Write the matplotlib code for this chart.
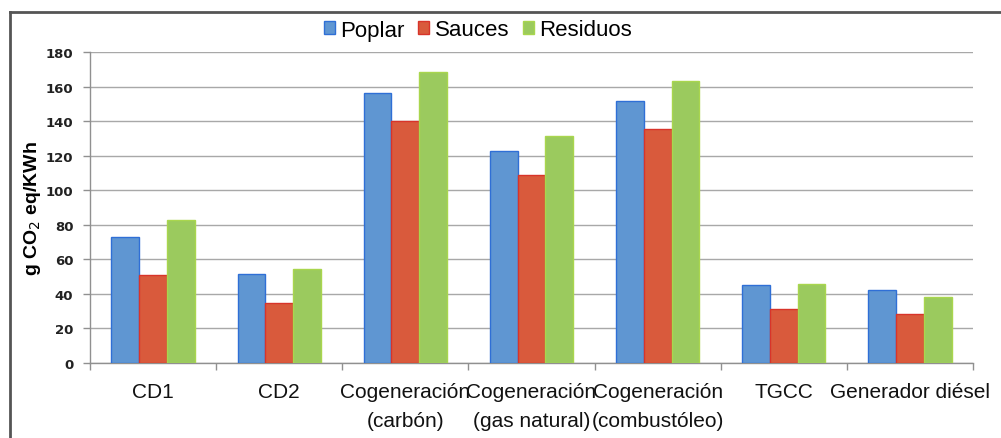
import matplotlib
matplotlib.use("Agg")
import matplotlib.pyplot as plt
import numpy as np
from matplotlib.lines import Line2D

categories = ["CD1", "CD2", "Cogeneración\n(carbón)", "Cogeneración\n(gas natural)",
              "Cogeneración\n(combustóleo)", "TGCC", "Generador diésel"]
poplar = [73, 51.5, 156.5, 122.5, 151.5, 45, 42]
sauces = [51, 35, 140, 109, 135.5, 31, 28.5]
residuos = [83, 54.5, 168.5, 131.5, 163.5, 46, 38]
series_names = ["Poplar", "Sauces", "Residuos"]
yticks = list(range(0, 181, 20))

fill_colors = ["#5F96D2", "#D95A3C", "#9BCA5E"]
edge_colors = ["#2F6FD6", "#D8342A", "#A9D64E"]

plt.rcParams['font.family'] = ['Liberation Sans', 'DejaVu Sans']
fig = plt.figure(figsize=(10.01, 4.39), dpi=100)
ax = fig.add_axes([90/1001, 1-364/439, (973-90)/1001, (364-53)/439])

x = np.arange(len(categories))
w = 0.22
for i, (vals, name) in enumerate(zip([poplar, sauces, residuos], series_names)):
    ax.bar(x + (i-1)*w, vals, width=w, color=fill_colors[i], edgecolor=edge_colors[i],
           linewidth=1.0, label=name, zorder=3)

ax.set_xlim(-0.5, len(categories)-0.5)
ax.set_ylim(0, 180)
ax.set_yticks(yticks)
ax.set_yticklabels([str(t) for t in yticks], fontsize=9.5, fontweight='bold',
                   family='DejaVu Sans', color='#222222')
ax.yaxis.grid(True, color='#A8A8A8', linewidth=1.0, zorder=0)
ax.set_axisbelow(True)

ax.set_xticks(x)
ax.set_xticklabels(categories, fontsize=15, color='#111111', linespacing=1.65)
ax.tick_params(axis='x', which='major', length=0, pad=14)
ax.set_xticks(np.arange(-0.5, len(categories), 1.0), minor=True)
ax.tick_params(axis='x', which='minor', length=5, color='#909090', width=1)
ax.tick_params(axis='y', length=5, color='#909090', width=1, pad=7)

for s in ['top', 'right']:
    ax.spines[s].set_visible(False)
for s in ['left', 'bottom']:
    ax.spines[s].set_color('#909090')
    ax.spines[s].set_linewidth(1.0)

ax.set_ylabel("g CO$_2$ eq/KWh", fontsize=14, fontweight='bold', labelpad=2)

leg = fig.legend(loc='center', bbox_to_anchor=(478/1001, 1-31/439), ncol=3, frameon=False,
                 fontsize=16, handlelength=0.5, handleheight=0.5, handletextpad=0.25,
                 columnspacing=0.6)

# outer border (left and top lines)
fig.add_artist(Line2D([10/1001, 10/1001], [0, 1-13/439], transform=fig.transFigure,
                      color='#555555', linewidth=2))
fig.add_artist(Line2D([10/1001, 1.0], [1-13/439, 1-13/439], transform=fig.transFigure,
                      color='#555555', linewidth=2))

fig.savefig("out.png", dpi=100)
